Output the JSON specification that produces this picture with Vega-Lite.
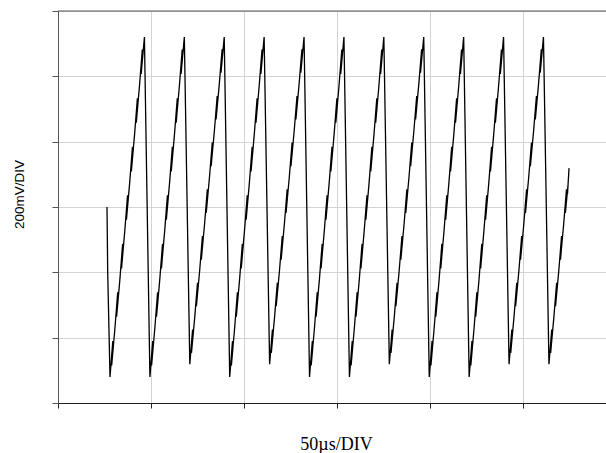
{
 "$schema": "https://vega.github.io/schema/vega-lite/v6.json",
 "width": 548, "height": 392,
 "autosize": {"type": "none"},
 "padding": {"left": 58, "top": 11, "right": 0, "bottom": 50},
 "background": "white",
 "config": {"view": {"stroke": null}},
 "layer": [
  {
   "data": {"values": [
    {"t":26.34,"v":600},{"t":26.72,"v":401},
    {"t":27.96,"v":80},{"t":29.46,"v":190},{"t":28.86,"v":115},{"t":30.60,"v":229},{"t":32.10,"v":339},{"t":31.50,"v":264},{"t":33.25,"v":377},{"t":34.75,"v":487},{"t":34.15,"v":412},{"t":35.89,"v":526},{"t":37.39,"v":636},{"t":36.79,"v":561},{"t":38.53,"v":674},{"t":40.03,"v":784},{"t":39.43,"v":709},{"t":41.18,"v":823},{"t":42.68,"v":933},{"t":42.08,"v":858},{"t":43.82,"v":972},{"t":45.32,"v":1082},{"t":44.72,"v":1007},{"t":46.46,"v":1120},
    {"t":49.41,"v":80},{"t":50.91,"v":190},{"t":50.31,"v":115},{"t":52.05,"v":229},{"t":53.55,"v":339},{"t":52.95,"v":264},{"t":54.70,"v":377},{"t":56.20,"v":487},{"t":55.60,"v":412},{"t":57.34,"v":526},{"t":58.84,"v":636},{"t":58.24,"v":561},{"t":59.98,"v":674},{"t":61.48,"v":784},{"t":60.88,"v":709},{"t":62.63,"v":823},{"t":64.13,"v":933},{"t":63.53,"v":858},{"t":65.27,"v":972},{"t":66.77,"v":1082},{"t":66.17,"v":1007},{"t":67.91,"v":1120},
    {"t":70.86,"v":119},{"t":72.36,"v":225},{"t":71.76,"v":153},{"t":73.50,"v":262},{"t":75.00,"v":368},{"t":74.40,"v":296},{"t":76.15,"v":405},{"t":77.65,"v":511},{"t":77.05,"v":439},{"t":78.79,"v":548},{"t":80.29,"v":654},{"t":79.69,"v":582},{"t":81.43,"v":691},{"t":82.93,"v":797},{"t":82.33,"v":725},{"t":84.08,"v":834},{"t":85.58,"v":940},{"t":84.98,"v":868},{"t":86.72,"v":977},{"t":88.22,"v":1083},{"t":87.62,"v":1011},{"t":89.36,"v":1120},
    {"t":92.31,"v":80},{"t":93.81,"v":190},{"t":93.21,"v":115},{"t":94.95,"v":229},{"t":96.45,"v":339},{"t":95.85,"v":264},{"t":97.60,"v":377},{"t":99.10,"v":487},{"t":98.50,"v":412},{"t":100.24,"v":526},{"t":101.74,"v":636},{"t":101.14,"v":561},{"t":102.88,"v":674},{"t":104.38,"v":784},{"t":103.78,"v":709},{"t":105.53,"v":823},{"t":107.03,"v":933},{"t":106.43,"v":858},{"t":108.17,"v":972},{"t":109.67,"v":1082},{"t":109.07,"v":1007},{"t":110.81,"v":1120},
    {"t":113.77,"v":119},{"t":115.27,"v":225},{"t":114.67,"v":153},{"t":116.41,"v":262},{"t":117.91,"v":368},{"t":117.31,"v":296},{"t":119.06,"v":405},{"t":120.56,"v":511},{"t":119.96,"v":439},{"t":121.70,"v":548},{"t":123.20,"v":654},{"t":122.60,"v":582},{"t":124.34,"v":691},{"t":125.84,"v":797},{"t":125.24,"v":725},{"t":126.99,"v":834},{"t":128.49,"v":940},{"t":127.89,"v":868},{"t":129.63,"v":977},{"t":131.13,"v":1083},{"t":130.53,"v":1011},{"t":132.27,"v":1120},
    {"t":135.22,"v":80},{"t":136.72,"v":190},{"t":136.12,"v":115},{"t":137.86,"v":229},{"t":139.36,"v":339},{"t":138.76,"v":264},{"t":140.51,"v":377},{"t":142.01,"v":487},{"t":141.41,"v":412},{"t":143.15,"v":526},{"t":144.65,"v":636},{"t":144.05,"v":561},{"t":145.79,"v":674},{"t":147.29,"v":784},{"t":146.69,"v":709},{"t":148.44,"v":823},{"t":149.94,"v":933},{"t":149.34,"v":858},{"t":151.08,"v":972},{"t":152.58,"v":1082},{"t":151.98,"v":1007},{"t":153.72,"v":1120},
    {"t":156.67,"v":80},{"t":158.17,"v":190},{"t":157.57,"v":115},{"t":159.31,"v":229},{"t":160.81,"v":339},{"t":160.21,"v":264},{"t":161.96,"v":377},{"t":163.46,"v":487},{"t":162.86,"v":412},{"t":164.60,"v":526},{"t":166.10,"v":636},{"t":165.50,"v":561},{"t":167.24,"v":674},{"t":168.74,"v":784},{"t":168.14,"v":709},{"t":169.89,"v":823},{"t":171.39,"v":933},{"t":170.79,"v":858},{"t":172.53,"v":972},{"t":174.03,"v":1082},{"t":173.43,"v":1007},{"t":175.17,"v":1120},
    {"t":178.12,"v":119},{"t":179.62,"v":225},{"t":179.02,"v":153},{"t":180.76,"v":262},{"t":182.26,"v":368},{"t":181.66,"v":296},{"t":183.41,"v":405},{"t":184.91,"v":511},{"t":184.31,"v":439},{"t":186.05,"v":548},{"t":187.55,"v":654},{"t":186.95,"v":582},{"t":188.69,"v":691},{"t":190.19,"v":797},{"t":189.59,"v":725},{"t":191.34,"v":834},{"t":192.84,"v":940},{"t":192.24,"v":868},{"t":193.98,"v":977},{"t":195.48,"v":1083},{"t":194.88,"v":1011},{"t":196.62,"v":1120},
    {"t":199.58,"v":80},{"t":201.08,"v":190},{"t":200.48,"v":115},{"t":202.22,"v":229},{"t":203.72,"v":339},{"t":203.12,"v":264},{"t":204.87,"v":377},{"t":206.37,"v":487},{"t":205.77,"v":412},{"t":207.51,"v":526},{"t":209.01,"v":636},{"t":208.41,"v":561},{"t":210.15,"v":674},{"t":211.65,"v":784},{"t":211.05,"v":709},{"t":212.80,"v":823},{"t":214.30,"v":933},{"t":213.70,"v":858},{"t":215.44,"v":972},{"t":216.94,"v":1082},{"t":216.34,"v":1007},{"t":218.08,"v":1120},
    {"t":221.03,"v":80},{"t":222.53,"v":190},{"t":221.93,"v":115},{"t":223.67,"v":229},{"t":225.17,"v":339},{"t":224.57,"v":264},{"t":226.32,"v":377},{"t":227.82,"v":487},{"t":227.22,"v":412},{"t":228.96,"v":526},{"t":230.46,"v":636},{"t":229.86,"v":561},{"t":231.60,"v":674},{"t":233.10,"v":784},{"t":232.50,"v":709},{"t":234.25,"v":823},{"t":235.75,"v":933},{"t":235.15,"v":858},{"t":236.89,"v":972},{"t":238.39,"v":1082},{"t":237.79,"v":1007},{"t":239.53,"v":1120},
    {"t":242.48,"v":119},{"t":243.98,"v":225},{"t":243.38,"v":153},{"t":245.12,"v":262},{"t":246.62,"v":368},{"t":246.02,"v":296},{"t":247.77,"v":405},{"t":249.27,"v":511},{"t":248.67,"v":439},{"t":250.41,"v":548},{"t":251.91,"v":654},{"t":251.31,"v":582},{"t":253.05,"v":691},{"t":254.55,"v":797},{"t":253.95,"v":725},{"t":255.70,"v":834},{"t":257.20,"v":940},{"t":256.60,"v":868},{"t":258.34,"v":977},{"t":259.84,"v":1083},{"t":259.24,"v":1011},{"t":260.98,"v":1120},
    {"t":263.93,"v":119},{"t":265.43,"v":225},{"t":264.83,"v":153},{"t":266.57,"v":262},{"t":268.07,"v":368},{"t":267.47,"v":296},{"t":269.22,"v":405},{"t":270.72,"v":511},{"t":270.12,"v":439},{"t":271.86,"v":548},{"t":273.36,"v":654},{"t":272.76,"v":582},{"t":274.20,"v":668},{"t":273.90,"v":640},{"t":274.73,"v":719}
   ]},
   "mark": {"type": "line", "color": "black", "strokeWidth": 1.3, "clip": true},
   "encoding": {
    "order": {"value": null},
    "x": {"field": "t", "type": "quantitative",
     "scale": {"domain": [0, 294.6], "nice": false, "zero": false},
     "axis": {"values": [0, 50, 100, 150, 200, 250], "labels": false, "grid": true, "gridColor": "#d3d3d3", "gridWidth": 1,
      "tickSize": 5, "tickColor": "#222", "domainColor": "#222",
      "title": "50µs/DIV", "titleFont": "Liberation Serif", "titleFontSize": 18, "titleFontWeight": "normal", "titleColor": "black",
      "titleX": 278, "titleY": 46, "titleBaseline": "alphabetic"}},
    "y": {"field": "v", "type": "quantitative",
     "scale": {"domain": [0, 1200], "nice": false},
     "axis": {"values": [0, 200, 400, 600, 800, 1000, 1200], "labels": false, "grid": true, "gridColor": "#d3d3d3", "gridWidth": 1,
      "tickSize": 6, "tickColor": "#555", "domainColor": "#555",
      "title": "200mV/DIV", "titleFont": "Liberation Sans", "titleFontSize": 13.5, "titleFontWeight": "normal", "titleColor": "black",
      "titleX": -35, "titleY": 183, "titleBaseline": "alphabetic", "titleAngle": 270}}
   }
  },
  {
   "data": {"values": [{}]},
   "mark": {"type": "rule", "color": "#555", "strokeWidth": 1},
   "encoding": {"y": {"datum": 1200}}
  }
 ]
}
